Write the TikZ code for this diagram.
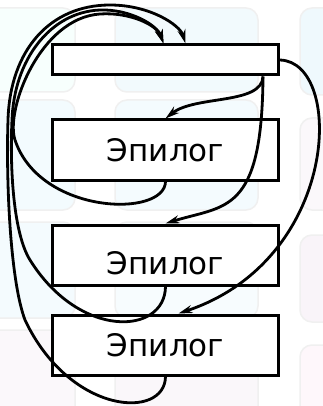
\documentclass[tikz,border=0pt]{standalone}
\usepackage{fontspec}
\setmainfont{DejaVu Sans}
\usepackage{tikz}
\usetikzlibrary{arrows.meta}
\tikzset{block/.style = {shape = rectangle, draw, line width = 3pt, fill = white, minimum width = 226pt, minimum height = 60pt, inner sep = 0pt, text height = 23pt, text depth = 0pt, font = \fontsize{31}{36}\selectfont}}
\tikzset{edge/.style = {-{Stealth[length = 14pt, width = 8pt]}, line width = 2.8pt}}
\tikzset{panel/.style = {rounded corners = 12pt, draw = black!6, line width = 1.5pt, fill opacity = 0.5}}

\begin{document}
\begin{tikzpicture}[x = 1pt, y = -1pt]
			\useasboundingbox (0, 0) rectangle (322, 406);
			% faded panels behind
			\fill[white] (0, 0) rectangle (322, 406);
			\filldraw[panel, fill = green!10!cyan!6] (-20, 8) rectangle (75, 92);
			\filldraw[panel, fill = cyan!10] (115, 8) rectangle (258, 92);
			\filldraw[panel, fill = cyan!12] (300, 8) rectangle (360, 95);
			\filldraw[panel, fill = cyan!9] (-20, 100) rectangle (75, 210);
			\filldraw[panel, fill = cyan!8] (115, 100) rectangle (258, 210);
			\filldraw[panel, fill = blue!8!violet!5] (300, 118) rectangle (360, 210);
			\filldraw[panel, fill = cyan!8] (-20, 222) rectangle (75, 318);
			\filldraw[panel, fill = cyan!6] (115, 222) rectangle (258, 318);
			\filldraw[panel, fill = violet!8] (300, 235) rectangle (360, 322);
			\filldraw[panel, fill = blue!6!violet!5] (-20, 330) rectangle (75, 430);
			\filldraw[panel, fill = violet!6] (115, 330) rectangle (258, 430);
			\filldraw[panel, fill = magenta!6] (300, 345) rectangle (360, 430);

			\node[block, minimum height = 30pt] (head) at (165.5, 60) {};
			\node[block] (epi1) at (165.5, 150) {Эпилог};
			\node[block, text height = 39pt] (epi2) at (165.5, 255) {Эпилог};
			\node[block] (epi3) at (165.5, 345) {Эпилог};

			\draw[edge] ([xshift = -17pt]head.south east) .. controls (262, 105) and (195, 95) .. (epi1.north);
			\draw[edge] ([xshift = -17pt]head.south east) .. controls (262, 215) and (225, 205) .. (epi2.north);
			\draw[edge] (head.east) .. controls (345, 62) and (340, 260) .. ([xshift = 13pt]epi3.north);
			\draw[edge] (epi1.south) .. controls (165, 218) and (40, 215) .. (15, 140)
				.. controls (5, 110) and (40, 18) .. (100, 14)
				.. controls (130, 12) and (157, 25) .. ([xshift = -2pt]head.north);
			\draw[edge] (epi2.south) .. controls (165, 335) and (80, 340) .. (30, 260)
				.. controls (12, 231) and (10, 160) .. (12, 120)
				.. controls (14, 60) and (50, 12) .. (100, 10)
				.. controls (130, 9) and (157, 25) .. ([xshift = -2pt]head.north);
			\draw[edge] (epi3.south) .. controls (165, 420) and (70, 415) .. (25, 320)
				.. controls (10, 280) and (6, 180) .. (8, 120)
				.. controls (10, 50) and (50, 5) .. (110, 5)
				.. controls (150, 5) and (180, 25) .. ([xshift = 20pt]head.north);
		\end{tikzpicture}
\end{document}
